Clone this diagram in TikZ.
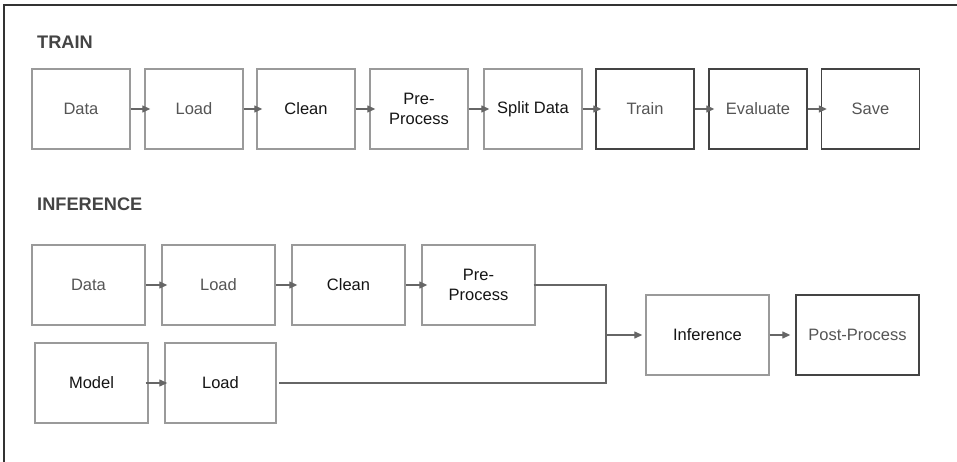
\documentclass[tikz,border=0pt]{standalone}
\usepackage{fontspec}
\setmainfont{Liberation Sans}
\usetikzlibrary{arrows.meta}
\definecolor{lightedge}{HTML}{9A9A9A}
\definecolor{darkedge}{HTML}{444444}
\definecolor{greytext}{HTML}{555555}
\definecolor{blacktext}{HTML}{151515}
\definecolor{linkcol}{HTML}{666666}
\definecolor{framecol}{HTML}{333333}
\tikzset{
  box/.style={draw=lightedge, line width=1.4pt, minimum height=80pt, inner sep=0pt,
    font=\fontsize{16.5}{20}\selectfont, align=center},
  lbox/.style={box, draw=lightedge},
  dbox/.style={box, draw=darkedge},
  gt/.style={text=greytext},
  bt/.style={text=blacktext},
  link/.style={draw=linkcol, line width=1.3pt, -{Triangle[length=8pt,width=7pt]}},
  plain/.style={draw=linkcol, line width=1.3pt},
  heading/.style={font=\fontsize{18.2}{20}\selectfont\bfseries, text=darkedge, anchor=west, inner sep=0pt}
}
\begin{document}
\begin{tikzpicture}[x=1pt,y=-1pt]
\useasboundingbox (0,0) rectangle (957,462);
\fill[white] (0,0) rectangle (957,462);
% frame
\draw[framecol, line width=1.8pt] (4,462) -- (4,5) -- (957,5);

\node[heading] (trainh) at (37,42) {TRAIN};
\node[heading] (infh) at (37,204) {INFERENCE};

% train row
\node[lbox,gt,minimum width=98pt] (t1) at (81,109) {Data};
\node[lbox,gt,minimum width=98pt] (t2) at (194,109) {Load};
\node[lbox,bt,minimum width=98pt] (t3) at (306,109) {Clean};
\node[lbox,bt,minimum width=98pt] (t4) at (419,109) {Pre-\\Process};
\node[lbox,bt,minimum width=98pt] (t5) at (533,109) {Split Data};
\node[dbox,gt,minimum width=98pt] (t6) at (645,109) {Train};
\node[dbox,gt,minimum width=98pt] (t7) at (758,109) {Evaluate};
\node[dbox,gt,minimum width=98pt] (t8) at (870.5,109) {Save};

\foreach \a/\b in {t1/t2,t2/t3,t3/t4,t4/t5,t5/t6,t6/t7,t7/t8}
  \draw[link] (\a.east) -- ([xshift=6pt]\b.west);

% inference rows
\node[lbox,gt,minimum width=113pt] (i1) at (88.5,285) {Data};
\node[lbox,gt,minimum width=113pt] (i2) at (218.5,285) {Load};
\node[lbox,bt,minimum width=113pt] (i3) at (348.5,285) {Clean};
\node[lbox,bt,minimum width=113pt] (i4) at (478.5,285) {Pre-\\Process};

\node[lbox,bt,minimum width=113pt] (m1) at (91.5,383) {Model};
\node[lbox,bt,minimum width=111pt] (m2) at (220.5,383) {Load};

\node[lbox,bt,minimum width=123pt] (inf) at (707.5,335) {Inference};
\node[dbox,gt,minimum width=123pt] (post) at (857.5,335) {Post-Process};

\foreach \a/\b in {i1/i2,i2/i3,i3/i4}
  \draw[link] (\a.east) -- ([xshift=6pt]\b.west);
\draw[link] ([xshift=-3pt]m1.east) -- ([xshift=3pt]m2.west);

\coordinate (j1) at (606,285);
\coordinate (j2) at (606,383);
\coordinate (j3) at (606,335);
\draw[plain] ([xshift=-2pt]i4.east) -- (j1) -- (j2) -- ([xshift=2pt]m2.east);
\draw[link] (j3) -- ([xshift=-3pt]inf.west);
\draw[link] (inf.east) -- ([xshift=-5pt]post.west);
\end{tikzpicture}
\end{document}
